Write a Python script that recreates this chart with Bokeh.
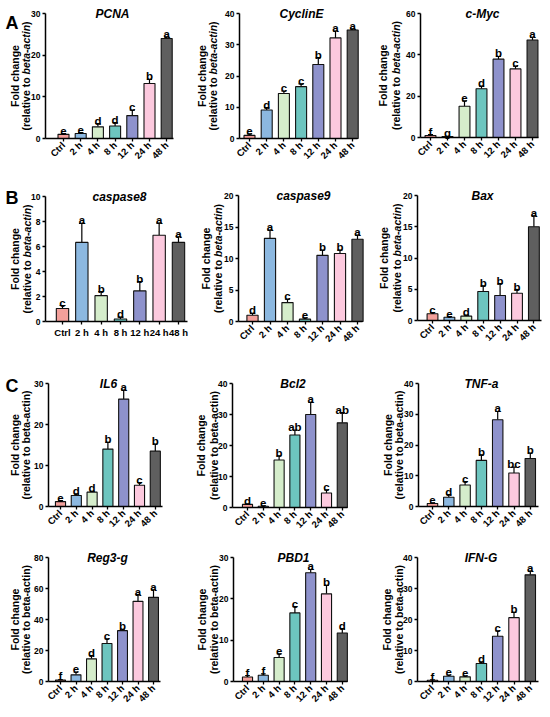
import math
from bokeh.plotting import figure
from bokeh.layouts import row, column
from bokeh.models import Range1d, Label, FixedTicker, ColumnDataSource
from bokeh.embed import file_html
from bokeh.resources import INLINE
from bokeh.core.properties import value

FONT = "Liberation Sans"

# ---------------- data ----------------
times = ["Ctrl", "2 h", "4 h", "8 h", "12 h", "24 h", "48 h"]
bar_colors = ["#F3A09B", "#8CB8E0", "#D5EDCB", "#6DC5BF", "#8E92CC", "#FCC9DE", "#5F5F5F"]

pcna_mean = [1.0, 1.2, 2.8, 3.0, 5.5, 13.2, 24.0]
pcna_err = [1.2, 1.4, 3.6, 3.8, 6.8, 14.2, 24.4]
pcna_sig = ["e", "e", "d", "d", "c", "b", "a"]
pcna_ticks = [0, 10, 20, 30]

cycline_mean = [1.0, 9.1, 14.4, 16.6, 23.7, 32.2, 34.7]
cycline_err = [1.5, 9.9, 15.2, 17.5, 25.9, 34.4, 35.1]
cycline_sig = ["e", "d", "c", "c", "b", "a", "a"]
cycline_ticks = [0, 10, 20, 30, 40]

cmyc_mean = [1.0, 0.5, 15.1, 23.6, 37.9, 33.2, 47.2]
cmyc_err = [1.4, 0.6, 17.7, 24.9, 39.2, 34.5, 48.5]
cmyc_sig = ["f", "g", "e", "d", "b", "c", "a"]
cmyc_ticks = [0, 20, 40, 60]

casp8_mean = [1.04, 6.33, 2.07, 0.2, 2.45, 6.9, 6.33]
casp8_err = [1.28, 7.85, 2.4, 0.35, 3.2, 7.87, 6.78]
casp8_sig = ["c", "a", "b", "d", "b", "a", "a"]
casp8_ticks = [0, 2, 4, 6, 8, 10]

casp9_mean = [1.0, 13.2, 3.0, 0.37, 10.5, 10.8, 13.05]
casp9_err = [1.3, 14.5, 3.55, 0.58, 11.35, 11.35, 13.7]
casp9_sig = ["d", "a", "c", "e", "b", "b", "a"]
casp9_ticks = [0, 5, 10, 15, 20]

bax_mean = [1.07, 0.53, 0.7, 4.64, 4.0, 4.37, 14.99]
bax_err = [1.28, 0.64, 0.85, 5.55, 5.92, 4.96, 16.75]
bax_sig = ["c", "e", "d", "b", "b", "b", "a"]
bax_ticks = [0, 5, 10, 15, 20]

il6_mean = [1.2, 2.7, 3.5, 14.0, 26.2, 5.2, 13.5]
il6_err = [1.45, 3.1, 3.7, 15.65, 28.4, 5.85, 15.25]
il6_sig = ["e", "d", "d", "b", "a", "c", "b"]
il6_ticks = [0, 10, 20, 30]

bcl2_mean = [1.0, 0.4, 15.3, 23.4, 30.0, 4.7, 27.3]
bcl2_err = [1.2, 0.55, 16.7, 25.0, 33.9, 5.7, 30.6]
bcl2_sig = ["d", "e", "b", "ab", "a", "c", "ab"]
bcl2_ticks = [0, 10, 20, 30, 40]

tnf_mean = [1.0, 3.0, 7.0, 15.0, 28.2, 10.9, 15.6]
tnf_err = [1.2, 3.9, 8.1, 16.8, 30.9, 12.8, 17.4]
tnf_sig = ["e", "d", "c", "b", "a", "bc", "b"]
tnf_ticks = [0, 10, 20, 30, 40]

reg3_mean = [0.9, 4.3, 14.6, 24.5, 32.8, 51.7, 54.3]
reg3_err = [1.3, 6.0, 16.7, 27.5, 33.7, 56.0, 59.2]
reg3_sig = ["f", "e", "d", "c", "b", "a", "a"]
reg3_ticks = [0, 20, 40, 60, 80]

pbd1_mean = [1.1, 1.5, 5.8, 16.6, 26.3, 21.2, 11.75]
pbd1_err = [1.45, 1.85, 6.7, 18.1, 27.1, 23.25, 12.8]
pbd1_sig = ["f", "f", "e", "c", "a", "b", "d"]
pbd1_ticks = [0, 10, 20, 30]

ifng_mean = [0.4, 1.7, 1.5, 5.8, 14.6, 20.6, 34.4]
ifng_err = [0.55, 2.1, 1.8, 6.3, 16.3, 22.3, 35.6]
ifng_sig = ["f", "e", "e", "d", "c", "b", "a"]
ifng_ticks = [0, 10, 20, 30, 40]

# Arial/Liberation Sans Bold advance widths (per em)
WID = {" ": .278, "(": .333, ")": .333, "-": .333, "a": .556, "b": .611, "c": .556,
       "e": .556, "i": .278, "l": .278, "n": .611, "o": .611, "r": .389, "t": .333, "v": .556}


def tw(s, size):
    return sum(WID.get(ch, .556) for ch in s) * size


LAB_SIZE = 10.5


def make_panel(gene, mean, err, sig, yticks, cell, g, offs, italic_beta, rotate,
               letter=None, letter_py=None):
    cx, cy, w, h = cell                       # cell rectangle (page pixels)
    axis_px, ctrl_px, step, xend_px, zero_py, top_py = g
    ymax = yticks[-1]
    ys = (zero_py - top_py) / ymax

    def X(px):
        return (px - ctrl_px) / step

    def Y(py):
        return (zero_py - py) / ys

    p = figure(width=w, height=h, x_range=Range1d(X(cx), X(cx + w)),
               y_range=Range1d(Y(cy + h), Y(cy)),
               output_backend="svg", toolbar_location=None, min_border=0)
    p.outline_line_color = None
    p.grid.visible = False
    p.background_fill_color = "white"
    p.border_fill_color = "white"

    xs = list(range(len(times)))
    src = ColumnDataSource(dict(x=xs, mean=mean, hi=err, sig=sig, color=bar_colors,
                                cl=[x - 0.15 for x in xs], cr=[x + 0.15 for x in xs]))
    p.segment(x0="x", y0="mean", x1="x", y1="hi", line_color="black", line_width=1.2, source=src)
    p.segment(x0="cl", y0="hi", x1="cr", y1="hi", line_color="black", line_width=1.2, source=src)
    p.vbar(x="x", top="mean", width=0.64, fill_color="color", line_color="#111111",
           line_width=1.1, source=src)
    p.text(x="x", y="hi", text="sig", text_align="center", text_baseline="alphabetic",
           y_offset=-3, text_font=value(FONT), text_font_style="bold",
           text_font_size="11.5px", text_color="black", source=src)

    for ax in (p.xaxis, p.yaxis):
        ax.axis_line_width = 1.5
        ax.axis_line_color = "black"
        ax.major_tick_line_width = 1.3
        ax.major_tick_line_color = "black"
        ax.major_tick_out = 3
        ax.major_tick_in = 0
        ax.minor_tick_line_color = None
        ax.major_label_text_font = FONT
        ax.major_label_text_font_style = "bold"
        ax.major_label_text_color = "black"
        ax.major_label_standoff = 2
    p.yaxis.fixed_location = X(axis_px)
    p.yaxis.bounds = (0, ymax)
    p.yaxis.ticker = FixedTicker(ticks=yticks)
    p.yaxis.major_label_text_font_size = "8.5px"
    p.xaxis.fixed_location = 0
    p.xaxis.bounds = (X(axis_px), X(xend_px))
    p.xaxis.ticker = FixedTicker(ticks=xs)
    p.xaxis.major_label_overrides = {i: t for i, t in enumerate(times)}
    p.xaxis.major_label_text_font_size = "9.5px"
    p.xaxis.major_label_orientation = math.pi / 4 if rotate else "horizontal"

    # title
    p.add_layout(Label(x=X((axis_px + xend_px) / 2 + 3), y=Y(top_py), text=gene,
                       text_font=FONT, text_font_style="bold italic", text_font_size="12px",
                       text_align="center", text_baseline="middle", text_color="black"))
    # y-axis label (two lines)
    cpy = (zero_py + top_py) / 2
    off1, off2 = offs
    p.add_layout(Label(x=X(axis_px + off1), y=Y(cpy), text="Fold change", angle=math.pi / 2,
                       text_font=FONT, text_font_style="bold", text_font_size=f"{LAB_SIZE}px",
                       text_align="center", text_baseline="middle", text_color="black"))
    if italic_beta:
        pieces = [("(relative to ", "bold"), ("beta-actin", "bold italic"), (")", "bold")]
        total = sum(tw(t, LAB_SIZE) for t, _ in pieces)
        py = cpy + total / 2
        for t, st in pieces:
            p.add_layout(Label(x=X(axis_px + off2), y=Y(py), text=t, angle=math.pi / 2,
                               text_font=FONT, text_font_style=st,
                               text_font_size=f"{LAB_SIZE}px", text_align="left",
                               text_baseline="middle", text_color="black"))
            py -= tw(t, LAB_SIZE)
    else:
        p.add_layout(Label(x=X(axis_px + off2), y=Y(cpy), text="(relative to beta-actin)",
                           angle=math.pi / 2, text_font=FONT, text_font_style="bold",
                           text_font_size=f"{LAB_SIZE}px", text_align="center",
                           text_baseline="middle", text_color="black"))
    if letter:
        p.add_layout(Label(x=X(cx + 5), y=Y(letter_py), text=letter,
                           text_font=FONT, text_font_style="bold", text_font_size="18px",
                           text_align="left", text_baseline="alphabetic", text_color="black"))
    return p


COLS = [(0, 193), (193, 183), (376, 174)]
ROWS = [(0, 185), (185, 190), (375, 175), (550, 167)]


def cell(r, c):
    return (COLS[c][0], ROWS[r][0], COLS[c][1], ROWS[r][1])


# geometry: (y-axis x, Ctrl centre x, bar step, x-axis end, zero y, top-tick y)
rowA = [
    make_panel("PCNA", pcna_mean, pcna_err, pcna_sig, pcna_ticks, cell(0, 0),
               (45, 63, 17.2, 173, 138, 13), (-31, -19.5), True, True, "A", 22),
    make_panel("CyclinE", cycline_mean, cycline_err, cycline_sig, cycline_ticks, cell(0, 1),
               (239, 249, 17.2, 357, 138, 13), (-38, -26.5), True, True),
    make_panel("c-Myc", cmyc_mean, cmyc_err, cmyc_sig, cmyc_ticks, cell(0, 2),
               (420, 430, 17.0, 538, 137, 13), (-38, -25), True, True),
]
rowB = [
    make_panel("caspase8", casp8_mean, casp8_err, casp8_sig, casp8_ticks, cell(1, 0),
               (45, 62, 19.33, 187, 321, 196), (-31, -19), True, False, "B", 197),
    make_panel("caspase9", casp9_mean, casp9_err, casp9_sig, casp9_ticks, cell(1, 1),
               (238, 252, 17.5, 362, 321, 195), (-33, -21), True, True),
    make_panel("Bax", bax_mean, bax_err, bax_sig, bax_ticks, cell(1, 2),
               (417, 432, 16.9, 541, 320, 195), (-34, -21), True, True),
]
rowC1 = [
    make_panel("IL6", il6_mean, il6_err, il6_sig, il6_ticks, cell(2, 0),
               (48, 60, 15.8, 162, 506, 383), (-34, -22.5), False, True, "C", 385),
    make_panel("Bcl2", bcl2_mean, bcl2_err, bcl2_sig, bcl2_ticks, cell(2, 1),
               (232, 247, 15.8, 347, 507, 383), (-32, -19), False, True),
    make_panel("TNF-a", tnf_mean, tnf_err, tnf_sig, tnf_ticks, cell(2, 2),
               (418, 432, 16.3, 538, 506, 383), (-31, -20), False, True),
]
rowC2 = [
    make_panel("Reg3-g", reg3_mean, reg3_err, reg3_sig, reg3_ticks, cell(3, 0),
               (48, 60, 15.5, 160, 681, 557), (-34, -23), False, True),
    make_panel("PBD1", pbd1_mean, pbd1_err, pbd1_sig, pbd1_ticks, cell(3, 1),
               (233, 247, 15.8, 347, 681, 557), (-31.5, -19.5), False, True),
    make_panel("IFN-G", ifng_mean, ifng_err, ifng_sig, ifng_ticks, cell(3, 2),
               (417, 432, 16.3, 538, 681, 557), (-31, -19), False, True),
]

layout = column(row(*rowA), row(*rowB), row(*rowC1), row(*rowC2))
open("out.html", "w").write(file_html(layout, INLINE))
